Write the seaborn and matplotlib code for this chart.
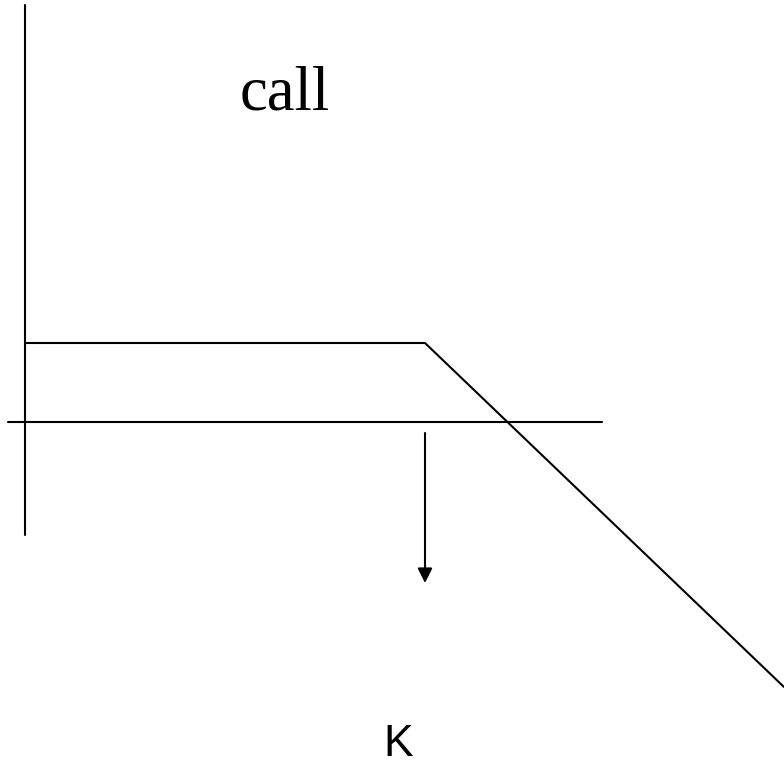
import matplotlib
matplotlib.use("Agg")
import matplotlib.pyplot as plt
import pandas as pd
import seaborn as sns

# payoff of a written call (premium kept until strike, then falls)
spot = [0, 400, 759]
payoff = [79, 79, -265]
strike = 400
title_text = "call"
strike_label = "K"

# axis extents (same units as the data)
x_axis = [-17, 577]
y_axis = [-113, 417]
arrow_top = -11
arrow_bottom = -161

df = pd.DataFrame({"spot": spot, "payoff": payoff})

sns.set_style("white")
fig = plt.figure(figsize=(7.84, 7.66), dpi=100)
ax = fig.add_axes([0, 0, 1, 1])
ax.set_xlim(-25, 759)
ax.set_ylim(-344, 422)
ax.axis("off")

# plain axes
ax.plot(x_axis, [0, 0], color="black", lw=1.5)
ax.plot([0, 0], y_axis, color="black", lw=1.5)

# payoff line
sns.lineplot(data=df, x="spot", y="payoff", color="black", lw=1.5, ax=ax,
             legend=False)

# arrow pointing down from the strike
ax.annotate("", xy=(strike, arrow_bottom), xytext=(strike, arrow_top),
            arrowprops=dict(arrowstyle="-|>", color="black", lw=1.5,
                            mutation_scale=22, shrinkA=0, shrinkB=0))

ax.text(260, 327, title_text, fontsize=45, family="Liberation Serif",
        color="black", ha="center", va="center")
ax.text(strike - 27, -322, strike_label, fontsize=32, family="Liberation Sans",
        color="black", ha="center", va="center")

fig.savefig("out.png", dpi=100)
